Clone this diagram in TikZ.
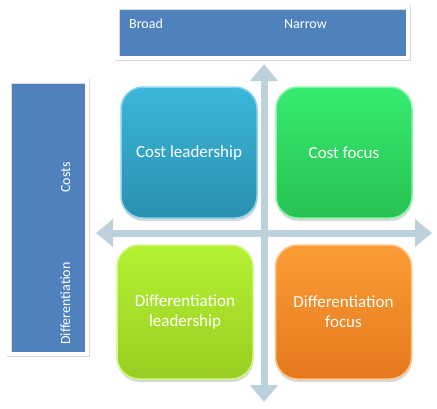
\documentclass[tikz,border=0pt]{standalone}
\usepackage{fontspec}
\setmainfont{Carlito}
\usepackage{tikz}
\usetikzlibrary{arrows.meta, positioning, shadows}
\usepackage{xcolor}

\definecolor{bandblue}{HTML}{4F81BD}
\definecolor{axisblue}{HTML}{BDD1DD}
\definecolor{tealtop}{HTML}{3BB7DB}
\definecolor{tealbot}{HTML}{2A90B0}
\definecolor{greentop}{HTML}{37EC70}
\definecolor{greenbot}{HTML}{27C152}
\definecolor{limetop}{HTML}{B4F133}
\definecolor{limebot}{HTML}{9ACD22}
\definecolor{orangetop}{HTML}{FB9C36}
\definecolor{orangebot}{HTML}{E5791D}

\begin{document}
\begin{tikzpicture}[
    x=1pt, y=-1pt,
    band/.style={
        rectangle,
        draw=black!15,
        line width=0.5pt,
        double=white,
        double distance=4pt,
        fill=bandblue,
        inner sep=0pt,
        drop shadow={opacity=0.25, shadow xshift=1pt, shadow yshift=-2.5pt}
    },
    label/.style={
        text=white,
        inner sep=0pt,
        font=\fontsize{14}{17}\selectfont
    },
    quad/.style={
        rectangle,
        rounded corners=22pt,
        minimum width=136pt,
        minimum height=131pt,
        line width=1.5pt,
        text=white,
        align=center,
        font=\fontsize{17}{20}\selectfont,
        drop shadow={opacity=0.3, shadow xshift=0.5pt, shadow yshift=-3pt}
    },
    axis/.style={
        {Triangle[width=27pt, length=17pt]}-{Triangle[width=27pt, length=17pt]},
        line width=7pt,
        axisblue
    }
]
    \useasboundingbox (0,0) rectangle (437,408);

    % axes
    \coordinate (west) at (96,233);
    \coordinate (east) at (432,233);
    \coordinate (north) at (264,64);
    \coordinate (south) at (264,402);
    \draw[axis] (west) -- (east);
    \draw[axis] (north) -- (south);

    % scope bands
    \node[band, minimum width=291pt, minimum height=51pt] (scope) at (262.5,32.5) {};
    \node[label, anchor=base west] (broad) at (129,28) {Broad};
    \node[label, anchor=base west] (narrow) at (284,28) {Narrow};

    \node[band, minimum width=78pt, minimum height=273pt] (advantage) at (48,217.5) {};
    \node[label, rotate=90, anchor=base west] (costs) at (70,193) {Costs};
    \node[label, rotate=90, anchor=base west] (differ) at (70,345) {Differentiation};

    % quadrants
    \node[quad, top color=tealtop, bottom color=tealbot, draw=tealtop!60!white] (costlead) at (189,152.5) {Cost leadership};
    \node[quad, top color=greentop, bottom color=greenbot, draw=greentop!60!white] (costfocus) at (344,152.5) {Cost focus};
    \node[quad, minimum height=134pt, top color=limetop, bottom color=limebot, draw=limetop!60!white] (difflead) at (185,312) {Differentiation\\leadership};
    \node[quad, minimum height=134pt, top color=orangetop, bottom color=orangebot, draw=orangetop!60!white] (difffocus) at (343.5,312) {Differentiation\\focus};
\end{tikzpicture}
\end{document}
